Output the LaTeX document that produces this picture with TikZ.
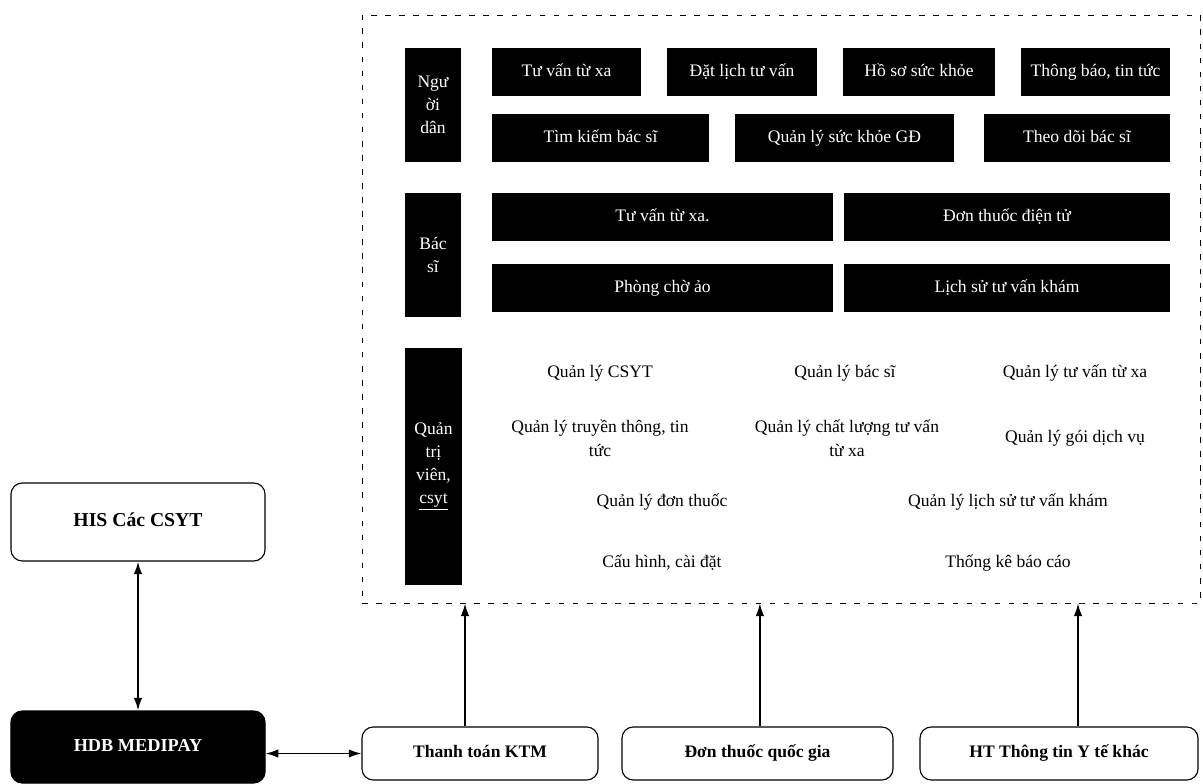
\documentclass[tikz,border=0pt]{standalone}
\usepackage{fontspec}
\setmainfont{Liberation Serif}
\usetikzlibrary{calc}
\usetikzlibrary{arrows.meta}

\begin{document}
\begin{tikzpicture}[x=0.025cm,y=-0.025cm,>={Latex[length=9pt,width=6pt]}] %% so do he thong
	\tikzstyle{chucnang}=[rectangle,fill=black,text=white,inner sep=2pt,minimum height=1.18cm,text height=9pt,text depth=3pt,font=\fontsize{12.5}{15}\selectfont];
	\tikzstyle{nhom}=[rectangle,fill=black,text=white,align=center,inner sep=1pt,minimum width=1.4cm,font=\fontsize{12.5}{16.5}\selectfont];
	\tikzstyle{quanly}=[align=center,font=\fontsize{12.5}{17}\selectfont];
	\tikzstyle{hethong}=[rectangle,rounded corners=8pt,draw=black,thick,fill=white,text height=9pt,text depth=3pt,font=\bfseries\fontsize{12.5}{15}\selectfont];
	\tikzstyle{ketnoi}=[line width=1.2pt];
	\useasboundingbox (0,0) rectangle (1203,783);
	\node[draw,dash pattern=on 4pt off 6pt,minimum width=20.95cm,minimum height=14.7cm] (khung) at (781,309) {};
	% nguoi dan
	\node[nhom,minimum height=2.85cm] (nguoidan) at (433,105) {Ngư\\ời\\dân};
	\node[chucnang,minimum width=3.725cm] (tuvan) at (566.5,72) {Tư vấn từ xa};
	\node[chucnang,minimum width=3.75cm] (datlich) at (742,72) {Đặt lịch tư vấn};
	\node[chucnang,minimum width=3.8cm] (hoso) at (919,72) {Hồ sơ sức khỏe};
	\node[chucnang,minimum width=3.725cm] (thongbao) at (1095.5,72) {Thông báo, tin tức};
	\node[chucnang,minimum width=5.425cm] (timkiem) at (600.5,138) {Tìm kiếm bác sĩ};
	\node[chucnang,minimum width=5.475cm] (suckhoe) at (844.5,138) {Quản lý sức khỏe GĐ};
	\node[chucnang,minimum width=4.65cm] (theodoi) at (1077,138) {Theo dõi bác sĩ};
	% bac si
	\node[nhom,minimum height=3.1cm] (bacsi) at (433,255) {Bác\\sĩ};
	\node[chucnang,minimum width=8.525cm] (tuvanbs) at (662.5,217) {Tư vấn từ xa.};
	\node[chucnang,minimum width=8.15cm] (donthuoc) at (1007,217) {Đơn thuốc điện tử};
	\node[chucnang,minimum width=8.525cm] (phongcho) at (662.5,288) {Phòng chờ ảo};
	\node[chucnang,minimum width=8.15cm] (lichsu) at (1007,288) {Lịch sử tư vấn khám};
	% quan tri vien
	\node[nhom,minimum height=5.925cm] (quantri) at (433.5,466.5) {Quản\\trị\\viên,\\\underline{csyt}};
	\node[quanly] (qlcsyt) at (600,373) {Quản lý CSYT};
	\node[quanly] (qlbacsi) at (845,373) {Quản lý bác sĩ};
	\node[quanly] (qltuvan) at (1075,373) {Quản lý tư vấn từ xa};
	\node[quanly] (qltruyenthong) at (600,438) {Quản lý truyền thông, tin\\tức};
	\node[quanly] (qlchatluong) at (847,438) {Quản lý chất lượng tư vấn\\từ xa};
	\node[quanly] (qlgoi) at (1075,438) {Quản lý gói dịch vụ};
	\node[quanly] (qldonthuoc) at (662,502) {Quản lý đơn thuốc};
	\node[quanly] (qllichsu) at (1008,502) {Quản lý lịch sử tư vấn khám};
	\node[quanly] (cauhinh) at (662,563) {Cấu hình, cài đặt};
	\node[quanly] (thongke) at (1008,563) {Thống kê báo cáo};
	% he thong ngoai
	\node[hethong,minimum width=6.35cm,minimum height=1.95cm,font=\bfseries\fontsize{14}{16}\selectfont] (his) at (138,522) {HIS Các CSYT};
	\node[hethong,fill=black,text=white,minimum width=6.35cm,minimum height=1.8cm,font=\bfseries\fontsize{13}{16}\selectfont] (hdb) at (138,747) {HDB MEDIPAY};
	\node[hethong,minimum width=5.9cm,minimum height=1.325cm] (thanhtoan) at (480,753.5) {Thanh toán KTM};
	\node[hethong,minimum width=6.775cm,minimum height=1.325cm] (donqg) at (757.5,753.5) {Đơn thuốc quốc gia};
	\node[hethong,minimum width=6.95cm,minimum height=1.325cm] (htyte) at (1059,753.5) {HT Thông tin Y tế khác};
	\draw[ketnoi,<->] (his) -- (hdb);
	\draw[ketnoi,<->] (hdb.east |- thanhtoan) -- (thanhtoan.west);
	\draw[ketnoi,->] ([xshift=-0.375cm]thanhtoan.north) -- ([xshift=-0.375cm]thanhtoan.north |- khung.south);
	\draw[ketnoi,->] ([xshift=0.06cm]donqg.north) -- ([xshift=0.06cm]donqg.north |- khung.south);
	\draw[ketnoi,->] ([xshift=0.475cm]htyte.north) -- ([xshift=0.475cm]htyte.north |- khung.south);
\end{tikzpicture}
\end{document}
